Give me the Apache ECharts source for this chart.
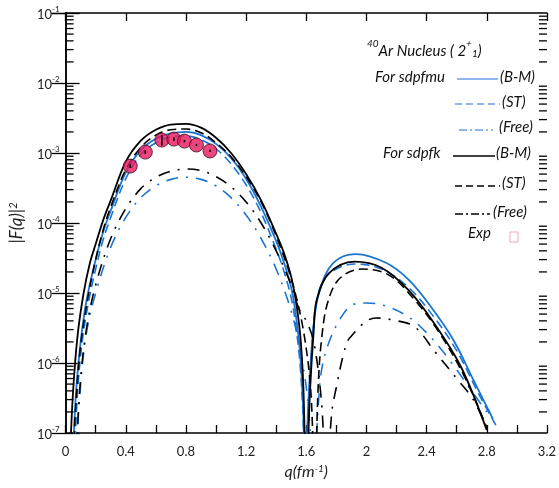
<!DOCTYPE html>
<html><head><meta charset="utf-8">
<script src="https://cdn.jsdelivr.net/npm/echarts@6/dist/echarts.min.js"></script>
<style>html,body{margin:0;padding:0;background:#fff}#c{width:559px;height:488px}</style>
</head><body><div id="c"></div>
<script>
// ---- data ----
const qMuBM = [0.05,0.07,0.10,0.14,0.20,0.25,0.30,0.40,0.50,0.60,0.70,0.80,0.90,1.00,1.10,1.20,1.30,1.40,1.45,1.50,1.53,1.56,1.58,1.59,1.615,1.65,1.69,1.78,1.93,2.13,2.28,2.43,2.58,2.71,2.84];
const vMuBM = [5e-8,4e-7,2e-6,8e-6,3e-5,7.5e-5,1.5e-4,5.3e-4,1.1e-3,1.6e-3,1.9e-3,2.0e-3,1.8e-3,1.35e-3,8.5e-4,4.3e-4,1.7e-4,5.5e-5,2.8e-5,1.2e-5,5e-6,1.3e-6,2e-7,2e-8,3e-7,3.7e-6,1.1e-5,2.7e-5,3.6e-5,2.7e-5,1.55e-5,6.3e-6,2.1e-6,5.8e-7,1.6e-7];

const qMuST = [0.06,0.08,0.11,0.15,0.20,0.25,0.30,0.40,0.50,0.60,0.70,0.80,0.90,1.00,1.10,1.20,1.30,1.40,1.45,1.50,1.53,1.56,1.58,1.595,1.62,1.645,1.67,1.72,1.80,1.92,2.10,2.28,2.45,2.60,2.75,2.86];
const vMuST = [5e-8,4e-7,2e-6,7e-6,2.2e-5,5.8e-5,1.2e-4,4.3e-4,9.5e-4,1.4e-3,1.7e-3,1.75e-3,1.55e-3,1.15e-3,7e-4,3.5e-4,1.4e-4,4.2e-5,2.1e-5,8.5e-6,3.5e-6,9e-7,1.5e-7,2e-8,4e-7,3e-6,8e-6,1.6e-5,2.2e-5,2.6e-5,2.2e-5,1.2e-5,4.5e-6,1.5e-6,3.5e-7,1.3e-7];

const qMuFree = [0.07,0.10,0.14,0.20,0.30,0.40,0.50,0.60,0.70,0.80,0.90,1.00,1.10,1.20,1.30,1.40,1.50,1.56,1.61,1.65,1.68,1.70,1.74,1.82,1.91,2.00,2.11,2.27,2.40,2.54,2.71,2.80];
const vMuFree = [5e-8,5e-7,2.8e-6,1e-5,4.5e-5,1.2e-4,2.3e-4,3.4e-4,4.2e-4,4.5e-4,4.2e-4,3.4e-4,2.3e-4,1.3e-4,6e-5,2.2e-5,5.5e-6,1.5e-6,3e-7,2e-8,2.5e-7,7.5e-7,1.7e-6,4.1e-6,6.8e-6,7.2e-6,6.7e-6,4.7e-6,2.7e-6,1.2e-6,3.7e-7,2e-7];

const qKBM = [0.03,0.05,0.08,0.12,0.16,0.20,0.25,0.30,0.40,0.50,0.60,0.70,0.80,0.90,1.00,1.10,1.20,1.30,1.40,1.45,1.50,1.53,1.56,1.58,1.60,1.625,1.65,1.67,1.75,1.92,2.10,2.28,2.45,2.63,2.80];
const vKBM = [5e-8,4e-7,2.5e-6,1e-5,2.6e-5,5e-5,1.1e-4,2.1e-4,7.5e-4,1.5e-3,2.15e-3,2.55e-3,2.6e-3,2.3e-3,1.65e-3,1e-3,5e-4,2.1e-4,7e-5,3.8e-5,1.7e-5,8e-6,2.5e-6,5e-7,2e-8,4e-7,3e-6,8e-6,1.9e-5,2.8e-5,2.3e-5,1.1e-5,3.7e-6,8.7e-7,1.1e-7];

const qKST = [0.05,0.07,0.10,0.15,0.20,0.25,0.30,0.40,0.50,0.60,0.70,0.80,0.90,1.00,1.10,1.20,1.30,1.40,1.50,1.58,1.63,1.655,1.68,1.70,1.74,1.82,1.97,2.15,2.32,2.48,2.65,2.80];
const vKST = [5e-8,3e-7,1.8e-6,9e-6,3e-5,8e-5,1.7e-4,5.8e-4,1.2e-3,1.8e-3,2.15e-3,2.2e-3,1.95e-3,1.4e-3,8.8e-4,4.6e-4,2e-4,6.5e-5,1.6e-5,3e-6,4e-7,2e-8,5e-7,2e-6,7e-6,1.6e-5,2.2e-5,1.8e-5,8e-6,2.8e-6,6.5e-7,1.2e-7];

const qKFree = [0.07,0.10,0.14,0.20,0.30,0.40,0.50,0.60,0.70,0.80,0.90,1.00,1.10,1.20,1.30,1.40,1.50,1.55,1.60,1.65,1.70,1.735,1.77,1.80,1.85,1.89,2.06,2.18,2.32,2.45,2.60,2.71,2.80];
const vKFree = [5e-8,6e-7,3.2e-6,1.3e-5,6e-5,1.6e-4,3.1e-4,4.5e-4,5.5e-4,5.9e-4,5.6e-4,4.6e-4,3.3e-4,2e-4,1e-4,4e-5,1.3e-5,6e-6,4e-6,2e-6,3e-7,2e-8,2e-7,4.5e-7,1.4e-6,2.3e-6,4.4e-6,4.1e-6,3.3e-6,1.5e-6,6e-7,3e-7,1.2e-7];

const qExp  = [0.43,0.53,0.64,0.72,0.79,0.87,0.96];
const vExp  = [6.5e-4,1.03e-3,1.53e-3,1.58e-3,1.48e-3,1.3e-3,1.07e-3];
const loExp = [6.1e-4,9.7e-4,1.28e-3,1.48e-3,1.42e-3,1.25e-3,1.03e-3];
const hiExp = [6.9e-4,1.09e-3,1.8e-3,1.68e-3,1.54e-3,1.35e-3,1.11e-3];

const xTickLabels = ['0','0.4','0.8','1.2','1.6','2','2.4','2.8','3.2'];
const yDecades = [-7,-6,-5,-4,-3,-2,-1];
const minorMult = [2,3,4,5,6,7,8,9];

// ---- build ----
const zip = (q, v) => q.map((x, i) => [x, v[i]]);
const BLUE = '#1a74d0', BLACK = '#000', LEGBLUE = '#6a9ee8';
const FONT = 'Lato';
const LF = 'italic 15px Lato';

const minorVals = [];
yDecades.slice(0, -1).forEach(e => minorMult.forEach(m => minorVals.push([0, m * Math.pow(10, e)])));

function lineSeries(name, q, v, color, type) {
  return {
    name, type: 'line', data: zip(q, v), showSymbol: false, smooth: 0.35,
    clip: true, z: 3,
    lineStyle: { color, width: type === 'solid' ? 1.8 : 1.6, type }
  };
}
function legText(x, y, t) { return { type: 'text', x, y, style: { text: t, font: LF, fill: '#111', textVerticalAlign: 'middle' } }; }
function legLine(x1, x2, y, color, dash) { return { type: 'line', shape: { x1, y1: y, x2, y2: y }, style: { stroke: color, lineWidth: 1.6, lineDash: dash } }; }

const chart = echarts.init(document.getElementById('c'), null, { renderer: 'canvas' });
const txt = { fontFamily: FONT, fontSize: 13, color: '#222' };

chart.setOption({
  animation: false,
  backgroundColor: '#fff',
  grid: { left: 63, right: 4, top: 13, bottom: 55, containLabel: false },
  xAxis: [{
    type: 'value', min: 0, max: 3.2, interval: 0.4, position: 'bottom',
    name: 'q(fm{s|-1})', nameLocation: 'middle', nameGap: 31,
    nameTextStyle: { fontFamily: FONT, fontSize: 16, fontStyle: 'italic', color: '#222',
      rich: { s: { fontFamily: FONT, fontSize: 10, fontStyle: 'italic', verticalAlign: 'top', lineHeight: 14, padding:[0,0,6,0] } } },
    axisLine: { show: true, lineStyle: { color: '#000', width: 1.5 } },
    axisTick: { show: true, inside: true, length: 8, lineStyle: { color: '#000', width: 1.3 } },
    minorTick: { show: true, splitNumber: 2, length: 8, lineStyle: { color: '#000', width: 1.3 } },
    splitLine: { show: false },
    axisLabel: { ...txt, margin: 12, formatter: v => xTickLabels[Math.round(v / 0.4)] }
  }, {
    type: 'value', min: 0, max: 3.2, interval: 0.4, position: 'top',
    axisLine: { show: true, lineStyle: { color: '#000', width: 1.5 } },
    axisTick: { show: true, inside: true, length: 8, lineStyle: { color: '#000', width: 1.3 } },
    axisLabel: { show: false }, splitLine: { show: false }
  }],
  yAxis: [{
    type: 'log', logBase: 10, min: 1e-7, max: 1e-1, splitNumber: 6, position: 'left',
    name: '|F(q)|{s|2}', nameLocation: 'middle', nameGap: 36, nameRotate: 90,
    nameTextStyle: { fontFamily: FONT, fontSize: 17, fontStyle: 'italic', color: '#222',
      rich: { s: { fontFamily: FONT, fontSize: 11, fontStyle: 'italic', verticalAlign: 'top', lineHeight: 14, padding:[0,0,7,0] } } },
    axisLine: { show: true, lineStyle: { color: '#000', width: 1.5 } },
    axisTick: { show: true, inside: true, length: 14, lineStyle: { color: '#000', width: 1.3 } },
    splitLine: { show: false },
    axisLabel: {
      ...txt, margin: 6,
      formatter: v => '{b|10}{s|' + Math.round(Math.log10(v)) + '}',
      rich: {
        b: { fontFamily: FONT, fontSize: 13, color: '#222', lineHeight: 16, verticalAlign: 'bottom' },
        s: { fontFamily: FONT, fontSize: 8, color: '#222', lineHeight: 16, verticalAlign: 'top' }
      }
    }
  }, {
    type: 'log', logBase: 10, min: 1e-7, max: 1e-1, splitNumber: 6, position: 'right',
    axisLine: { show: true, lineStyle: { color: '#000', width: 1.5 } },
    axisTick: { show: true, inside: true, length: 14, lineStyle: { color: '#000', width: 1.3 } },
    axisLabel: { show: false }, splitLine: { show: false }
  }],
  series: [
    {
      name: 'minorTicks', type: 'custom', data: minorVals, silent: true, clip: false, z: 2,
      renderItem: (params, api) => {
        const cs = params.coordSys;
        const y = api.coord([0, api.value(1)])[1];
        const st = { stroke: '#000', lineWidth: 1.3 };
        return { type: 'group', children: [
          { type: 'line', shape: { x1: cs.x, y1: y, x2: cs.x + 8, y2: y }, style: st },
          { type: 'line', shape: { x1: cs.x + cs.width - 8, y1: y, x2: cs.x + cs.width, y2: y }, style: st }
        ]};
      }
    },
    lineSeries('sdpfmu (B-M)', qMuBM, vMuBM, BLUE, 'solid'),
    lineSeries('sdpfmu (ST)', qMuST, vMuST, BLUE, [9, 5]),
    lineSeries('sdpfmu (Free)', qMuFree, vMuFree, BLUE, [12, 8, 2, 8]),
    lineSeries('sdpfk (B-M)', qKBM, vKBM, BLACK, 'solid'),
    lineSeries('sdpfk (ST)', qKST, vKST, BLACK, [9, 5]),
    lineSeries('sdpfk (Free)', qKFree, vKFree, BLACK, [12, 8, 2, 8]),
    {
      name: 'Exp', type: 'scatter', data: zip(qExp, vExp), symbol: 'circle', symbolSize: 14, z: 5,
      itemStyle: { color: '#e8175d', borderColor: '#3a1020', borderWidth: 1 }
    },
    {
      name: 'ExpErr', type: 'custom', z: 6, data: qExp.map((q, i) => [q, vExp[i], loExp[i], hiExp[i]]),
      renderItem: (params, api) => {
        const p1 = api.coord([api.value(0), api.value(2)]);
        const p2 = api.coord([api.value(0), api.value(3)]);
        return { type: 'line', shape: { x1: p1[0], y1: p1[1], x2: p2[0], y2: p2[1] }, style: { stroke: '#000', lineWidth: 1.6 } };
      }
    }
  ],
  graphic: [
    { type: 'text', x: 367, y: 49, style: { text: '{s|40}{n|Ar Nucleus ( 2}{s|+}{u|1}{n|)}', textVerticalAlign: 'middle', rich: {
      n: { fontFamily: FONT, fontSize: 15, fontStyle: 'italic', fill: '#111', lineHeight: 20, verticalAlign: 'bottom' },
      s: { fontFamily: FONT, fontSize: 10, fontStyle: 'italic', fill: '#111', lineHeight: 20, verticalAlign: 'top' },
      u: { fontFamily: FONT, fontSize: 10, fontStyle: 'italic', fill: '#111', lineHeight: 16, verticalAlign: 'bottom' } } } },
    legText(375, 77, 'For sdpfmu'),
    legLine(457, 498, 79, LEGBLUE),
    legText(500, 77, '(B-M)'),
    legLine(455, 500, 104, LEGBLUE, [7, 4]),
    legText(502, 102, '(ST)'),
    legLine(459, 493, 130, LEGBLUE, [8, 3, 2, 3]),
    legText(499, 127, '(Free)'),
    legText(383, 153, 'For sdpfk'),
    legLine(453, 495, 156, '#000'),
    legText(496, 153, '(B-M)'),
    legLine(455, 500, 186, '#000', [7, 4]),
    legText(502, 183, '(ST)'),
    legLine(455, 490, 214, '#000', [8, 3, 2, 3]),
    legText(493, 212, '(Free)'),
    legText(468, 233, 'Exp'),
    { type: 'rect', shape: { x: 510, y: 232, width: 8, height: 10 }, style: { fill: 'none', stroke: '#f5a3c0', lineWidth: 1 } }
  ]
});
</script>
</body></html>
